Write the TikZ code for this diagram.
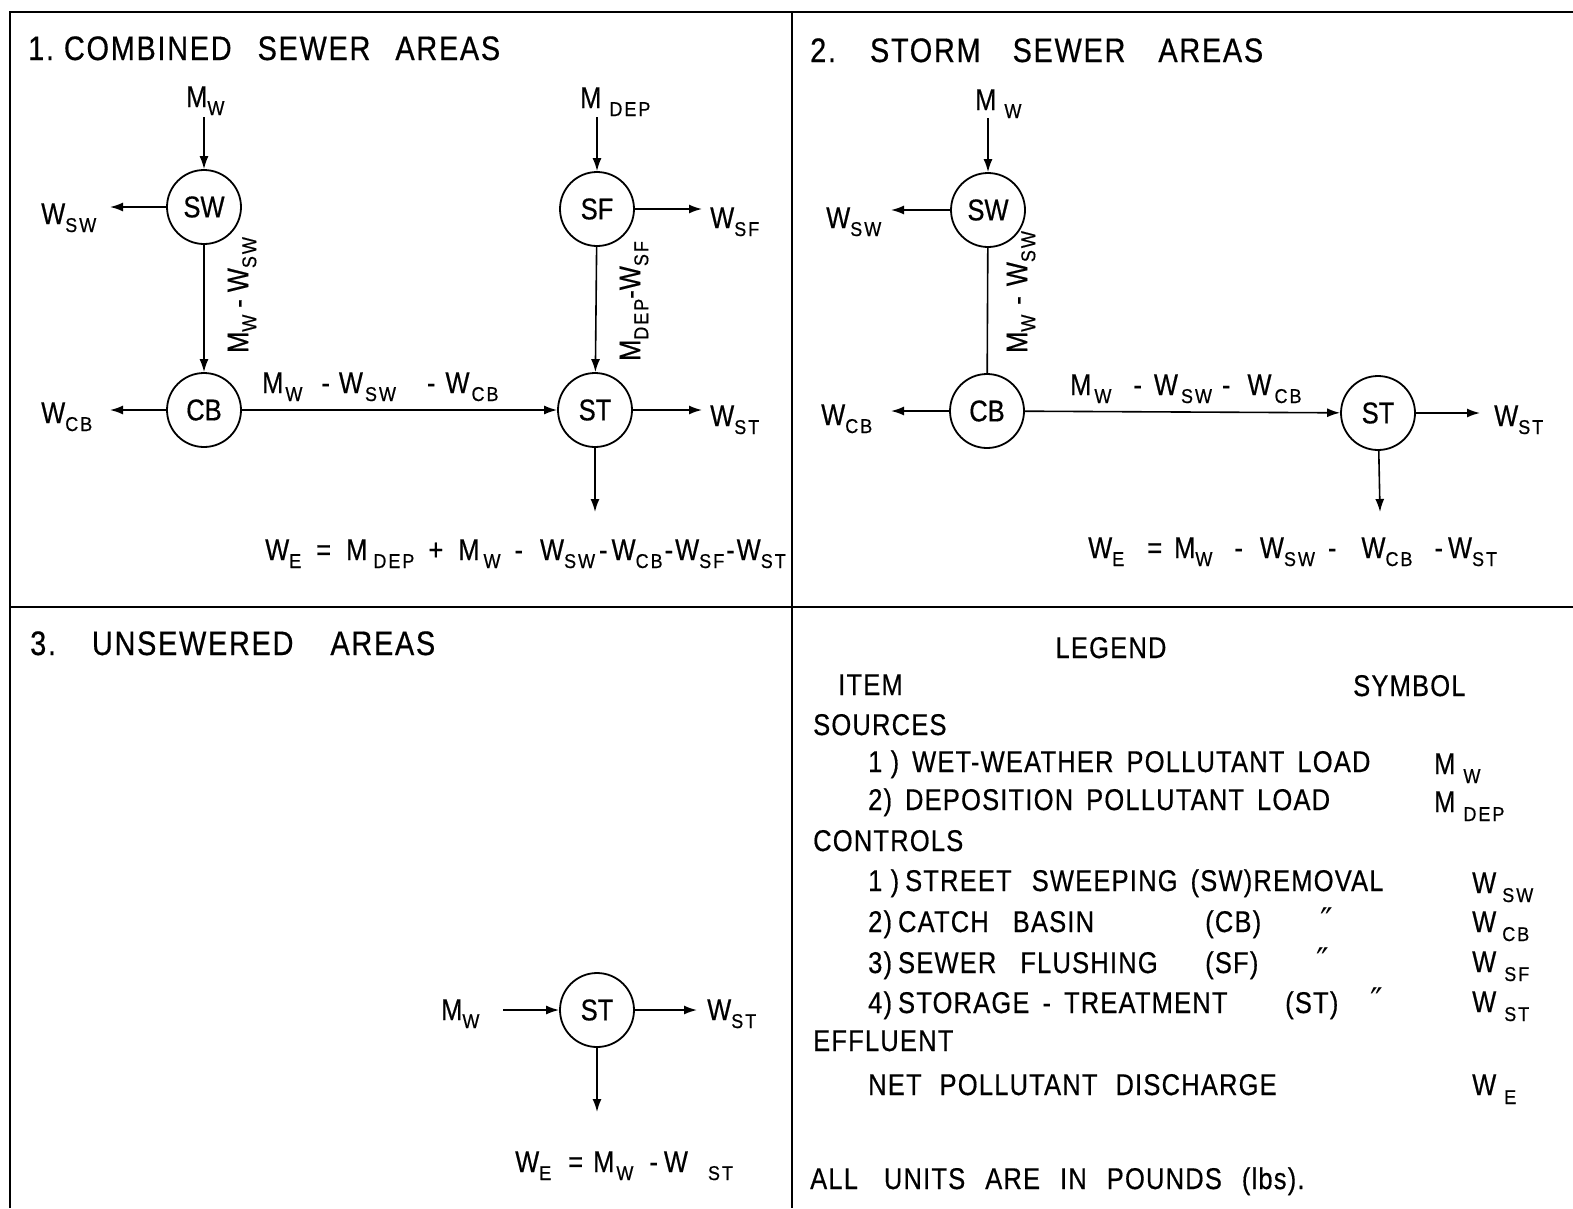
\documentclass[tikz,border=0pt]{standalone}
\usepackage{fontspec}
\setmainfont{Liberation Sans}[FakeStretch=0.85,FakeBold=0.5]
\newfontfamily\ttlfont{Liberation Sans}[FakeStretch=0.85,FakeBold=0.5,LetterSpace=5]
\newfontfamily\legfont{Liberation Sans}[FakeStretch=0.85,FakeBold=0.5,LetterSpace=4]
\newfontfamily\subfont{Liberation Sans}[FakeStretch=0.9,FakeBold=0.5,LetterSpace=10]
\newfontfamily\qfont{DejaVu Sans}
\usetikzlibrary{arrows.meta}
\newcommand\su[1]{\raisebox{-8pt}{\subfont\fontsize{20}{20}\selectfont #1}}
\newcommand\lsu[1]{\raisebox{-9pt}{\subfont\fontsize{20}{20}\selectfont #1}}
\newcommand\hs[1]{\hspace*{#1pt}}
\newcommand\ws{\hspace*{13pt}}
\newcommand\dq{{\qfont\fontsize{34}{34}\selectfont ″}}
\tikzset{
  frame/.style={line width=2.4pt},
  unit/.style={circle,draw,line width=1.8pt,minimum size=74pt,inner sep=0pt,font=\fontsize{30}{30}\selectfont},
  flow/.style={line width=1.6pt,-{Latex[length=13pt,width=9pt]}},
  link/.style={line width=1.6pt},
  lab/.style={inner sep=0pt,anchor=base west,font=\fontsize{30}{30}\selectfont},
  rlab/.style={inner sep=0pt,rotate=90,font=\fontsize{30}{30}\selectfont},
  ttl/.style={inner sep=0pt,anchor=base west,font=\ttlfont\fontsize{34}{34}\selectfont},
  leg/.style={inner sep=0pt,anchor=base west,font=\legfont\fontsize{30}{30}\selectfont},
  qmark/.style={inner sep=0pt,anchor=base west,text height=26pt,text depth=0pt}
}
\begin{document}
\begin{tikzpicture}[x=1pt,y=-1pt]
\useasboundingbox (0,0) rectangle (1573,1208);
% frame
\draw[frame] (10,1208) -- (10,12) -- (1573,12);
\draw[frame] (792,12) -- (792,1208);
\draw[frame] (10,607) -- (1573,607);

% ---------- panel 1 ----------
\node[ttl] (t1) at (28,60) {1.\hs{10}COMBINED\hs{26}SEWER\hs{25}AREAS};
\node[unit] (sw1) at (204,207) {SW};
\node[unit] (cb1) at (204,410) {CB};
\node[unit] (sf1) at (597,209) {SF};
\node[unit] (st1) at (595,410) {ST};
\node[lab] (mw1) at (186,107) {M\su{W}};
\node[lab] (md1) at (580,108) {M\hs{8}\su{DEP}};
\node[lab] (wsw1) at (41,224) {W\su{SW}};
\node[lab] (wcb1) at (41,423) {W\su{CB}};
\node[lab] (wsf1) at (710,228) {W\su{SF}};
\node[lab] (wst1) at (710,426) {W\su{ST}};
\coordinate (a1) at (204,117);
\coordinate (a2) at (597,117);
\coordinate (a3) at (110,207);
\coordinate (a4) at (110,410);
\coordinate (a5) at (702,209);
\coordinate (a6) at (702,410);
\coordinate (a7) at (595,512);
\draw[flow] (a1) -- (sw1);
\draw[flow] (a2) -- (sf1);
\draw[flow] (sw1) -- (a3);
\draw[flow] (cb1) -- (a4);
\draw[flow] (sf1) -- (a5);
\draw[flow] (st1) -- (a6);
\draw[flow] (st1) -- (a7);
\draw[flow] (sw1) -- (cb1);
\draw[flow] (sf1) -- (st1);
\draw[flow] (cb1) -- (st1);
\node[rlab] (r1) at (242,295) {M\su{W}\hs{7}-\hs{7}W\su{SW}};
\node[rlab] (r2) at (634,301) {M\su{DEP}-W\su{SF}};
\node[lab] (h1) at (262,393) {M\hs{2}\su{W}\hs{19}-\hs{9}W\hs{2}\su{SW}\hs{31}-\hs{10}W\hs{2}\su{CB}};
\node[lab] (e1) at (265,560) {W\su{E}\hs{15}=\hs{15}M\hs{6}\su{DEP}\hs{14}+\hs{15}M\hs{4}\su{W}\hs{14}-\hs{17}W\su{SW}\hs{4}-\hs{4}W\su{CB}\hs{2}-\hs{2}W\su{SF}\hs{2}-\hs{2}W\su{ST}};

% ---------- panel 2 ----------
\node[ttl] (t2) at (810,62) {2.\hs{34}STORM\hs{32}SEWER\hs{33}AREAS};
\node[unit] (sw2) at (988,210) {SW};
\node[unit] (cb2) at (987,411) {CB};
\node[unit] (st2) at (1378,413) {ST};
\node[lab] (mw2) at (975,110) {M\hs{8}\su{W}};
\node[lab] (wsw2) at (826,228) {W\su{SW}};
\node[lab] (wcb2) at (821,425) {W\su{CB}};
\node[lab] (wst2) at (1494,426) {W\su{ST}};
\coordinate (b1) at (988,118);
\coordinate (b2) at (891,210);
\coordinate (b3) at (891,411);
\coordinate (b4) at (1480,413);
\coordinate (b5) at (1380,512);
\draw[flow] (b1) -- (sw2);
\draw[flow] (sw2) -- (b2);
\draw[link] (sw2) -- (cb2);
\draw[flow] (cb2) -- (b3);
\draw[flow] (cb2) -- (st2);
\draw[flow] (st2) -- (b4);
\draw[flow] (st2) -- (b5);
\node[rlab] (r3) at (1021,292) {M\su{W}\hs{10}-\hs{10}W\su{SW}};
\node[lab] (h2) at (1070,395) {M\hs{3}\su{W}\hs{22}-\hs{12}W\hs{3}\su{SW}\hs{10}-\hs{17}W\hs{3}\su{CB}};
\node[lab] (e2) at (1088,558) {W\su{E}\hs{23}=\hs{12}M\su{W}\hs{22}-\hs{17}W\su{SW}\hs{13}-\hs{25}W\su{CB}\hs{22}-\hs{5}W\su{ST}};

% ---------- panel 3 ----------
\node[ttl] (t3) at (30,655) {3.\hs{36}UNSEWERED\hs{37}AREAS};
\node[unit] (st3) at (597,1010) {ST};
\node[lab] (mw3) at (441,1020) {M\su{W}};
\node[lab] (wst3) at (707,1020) {W\su{ST}};
\coordinate (c1) at (503,1010);
\coordinate (c2) at (697,1010);
\coordinate (c3) at (597,1112);
\draw[flow] (c1) -- (st3);
\draw[flow] (st3) -- (c2);
\draw[flow] (st3) -- (c3);
\node[lab] (e3) at (515,1172) {W\su{E}\hs{17}=\hs{10}M\hs{2}\su{W}\hs{16}-\hs{6}W\hs{20}\su{ST}};

% ---------- legend ----------
\node[leg,anchor=base] (lg) at (1111,658) {LEGEND};
\node[leg] (it) at (838,695) {ITEM};
\node[leg] (sy) at (1353,696) {SYMBOL};
\node[leg] (so) at (813,735) {SOURCES};
\node[leg] (s1) at (868,772) {1 )\ws WET-WEATHER\ws POLLUTANT\ws LOAD};
\node[leg] (s2) at (868,810) {2)\ws DEPOSITION\ws POLLUTANT\ws LOAD};
\node[leg] (co) at (813,851) {CONTROLS};
\node[leg] (c1t) at (868,891) {1 )\hs{6}STREET\hs{20}SWEEPING\ws (SW)REMOVAL};
\node[leg] (c2t) at (868,932) {2)\hs{6}CATCH\hs{24}BASIN};
\node[leg] (c2p) at (1205,932) {(CB)};
\node[qmark] (c2q) at (1320,932) {\dq};
\node[leg] (c3t) at (868,973) {3)\hs{6}SEWER\hs{24}FLUSHING};
\node[leg] (c3p) at (1205,973) {(SF)};
\node[qmark] (c3q) at (1316,972) {\dq};
\node[leg] (c4t) at (868,1013) {4)\hs{6}STORAGE\ws-\ws TREATMENT};
\node[leg] (c4p) at (1285,1013) {(ST)};
\node[qmark] (c4q) at (1370,1012) {\dq};
\node[leg] (ef) at (813,1051) {EFFLUENT};
\node[leg] (ne) at (868,1095) {NET\hs{18}POLLUTANT\hs{18}DISCHARGE};
\node[leg] (al) at (810,1189) {ALL\hs{26}UNITS\hs{20}ARE\hs{20}IN\hs{20}POUNDS\hs{20}(lbs).};
\node[leg] (m1) at (1434,774) {M\hs{8}\lsu{W}};
\node[leg] (m2) at (1434,812) {M\hs{8}\lsu{DEP}};
\node[leg] (w1) at (1472,893) {W\hs{6}\lsu{SW}};
\node[leg] (w2) at (1472,932) {W\hs{6}\lsu{CB}};
\node[leg] (w3) at (1472,972) {W\hs{8}\lsu{SF}};
\node[leg] (w4) at (1472,1012) {W\hs{8}\lsu{ST}};
\node[leg] (w5) at (1472,1095) {W\hs{8}\lsu{E}};
\end{tikzpicture}
\end{document}
